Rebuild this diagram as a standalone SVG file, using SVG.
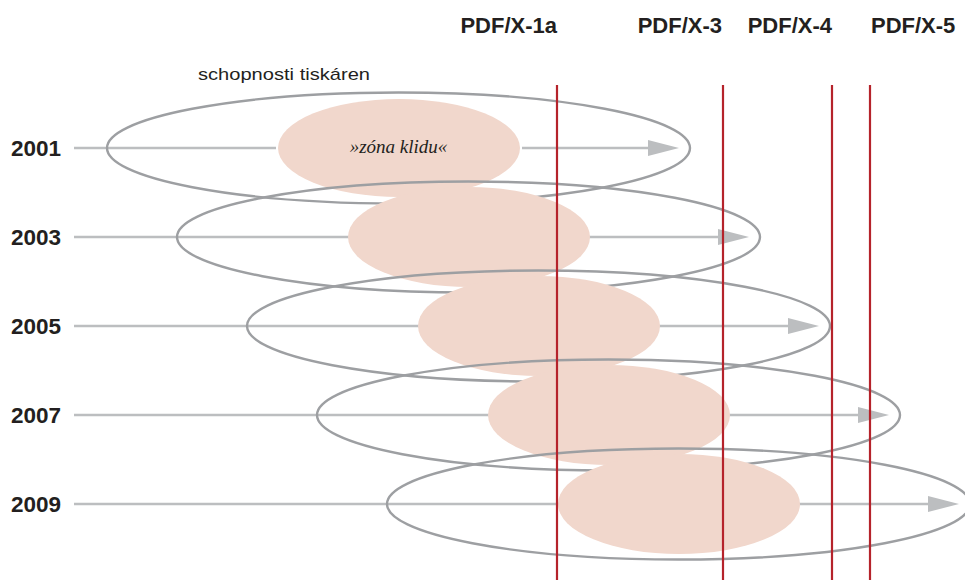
<svg xmlns="http://www.w3.org/2000/svg" width="965" height="580" viewBox="0 0 965 580">
<style>
.outer{fill:none;stroke:#9d9fa2;stroke-width:2.4}
.zone{fill:#f1d7cc}
.axis{fill:none;stroke:#bcbec0;stroke-width:2.4}
.year{font-family:"Liberation Sans",Arial,sans-serif;font-weight:bold;font-size:22.5px;fill:#231f20}
.std{font-family:"Liberation Sans",Arial,sans-serif;font-weight:bold;font-size:22px;fill:#231f20}
.red{stroke:#b5232b;stroke-width:2.2}
</style>
<defs>
<marker id="ah" markerUnits="userSpaceOnUse" markerWidth="32" markerHeight="18" viewBox="0 -9 32 18" refX="0" refY="0" orient="auto">
<path d="M0,-8 L31,0 L0,8 z" fill="#bcbec0"/>
</marker>
</defs>
<rect width="965" height="580" fill="#ffffff"/>
<g id="connectors">
<path class="axis" d="M74,148 H276 M522,148 H648" marker-end="url(#ah)"/>
<path class="axis" d="M74,237 H718" marker-end="url(#ah)"/>
<path class="axis" d="M74,326 H788" marker-end="url(#ah)"/>
<path class="axis" d="M74,415 H858" marker-end="url(#ah)"/>
<path class="axis" d="M74,504 H928" marker-end="url(#ah)"/>
</g>
<g id="label-printers">
<text x="198" y="80" font-family="'Liberation Sans',Arial,sans-serif" font-size="17" fill="#231f20" textLength="172" lengthAdjust="spacingAndGlyphs">schopnosti tiskáren</text>
</g>
<g id="row-2001">
<ellipse class="outer" cx="398.5" cy="148" rx="291.5" ry="55.5"/>
<ellipse class="zone" cx="399" cy="148" rx="121" ry="49"/>
<text x="398.5" y="153" text-anchor="middle" font-family="'Liberation Serif','Times New Roman',serif" font-style="italic" font-size="19" fill="#231f20">»zóna klidu«</text>
<text class="year" x="11" y="155.5">2001</text>
</g>
<g id="row-2003">
<ellipse class="outer" cx="468.5" cy="237" rx="291.5" ry="55.5"/>
<ellipse class="zone" cx="469" cy="237" rx="121" ry="50"/>
<text class="year" x="11" y="244.5">2003</text>
</g>
<g id="row-2005">
<ellipse class="outer" cx="538.5" cy="326" rx="291.5" ry="55.5"/>
<ellipse class="zone" cx="539" cy="326" rx="121" ry="50"/>
<text class="year" x="11" y="333.5">2005</text>
</g>
<g id="row-2007">
<ellipse class="outer" cx="608.5" cy="415" rx="291.5" ry="55.5"/>
<ellipse class="zone" cx="609" cy="415" rx="121" ry="50"/>
<text class="year" x="11" y="422.5">2007</text>
</g>
<g id="row-2009">
<ellipse class="outer" cx="678.5" cy="504" rx="291.5" ry="55.5"/>
<ellipse class="zone" cx="679" cy="504" rx="121" ry="50"/>
<text class="year" x="11" y="511.5">2009</text>
</g>
<g id="std-pdfx1a">
<line class="red" x1="557" y1="85" x2="557" y2="580"/>
<text class="std" x="557" y="33" text-anchor="end">PDF/X-1a</text>
</g>
<g id="std-pdfx3">
<line class="red" x1="723" y1="85" x2="723" y2="580"/>
<text class="std" x="722" y="33" text-anchor="end">PDF/X-3</text>
</g>
<g id="std-pdfx4">
<line class="red" x1="832" y1="85" x2="832" y2="580"/>
<text class="std" x="832" y="33" text-anchor="end">PDF/X-4</text>
</g>
<g id="std-pdfx5">
<line class="red" x1="870" y1="85" x2="870" y2="580"/>
<text class="std" x="871" y="33">PDF/X-5</text>
</g>
</svg>
